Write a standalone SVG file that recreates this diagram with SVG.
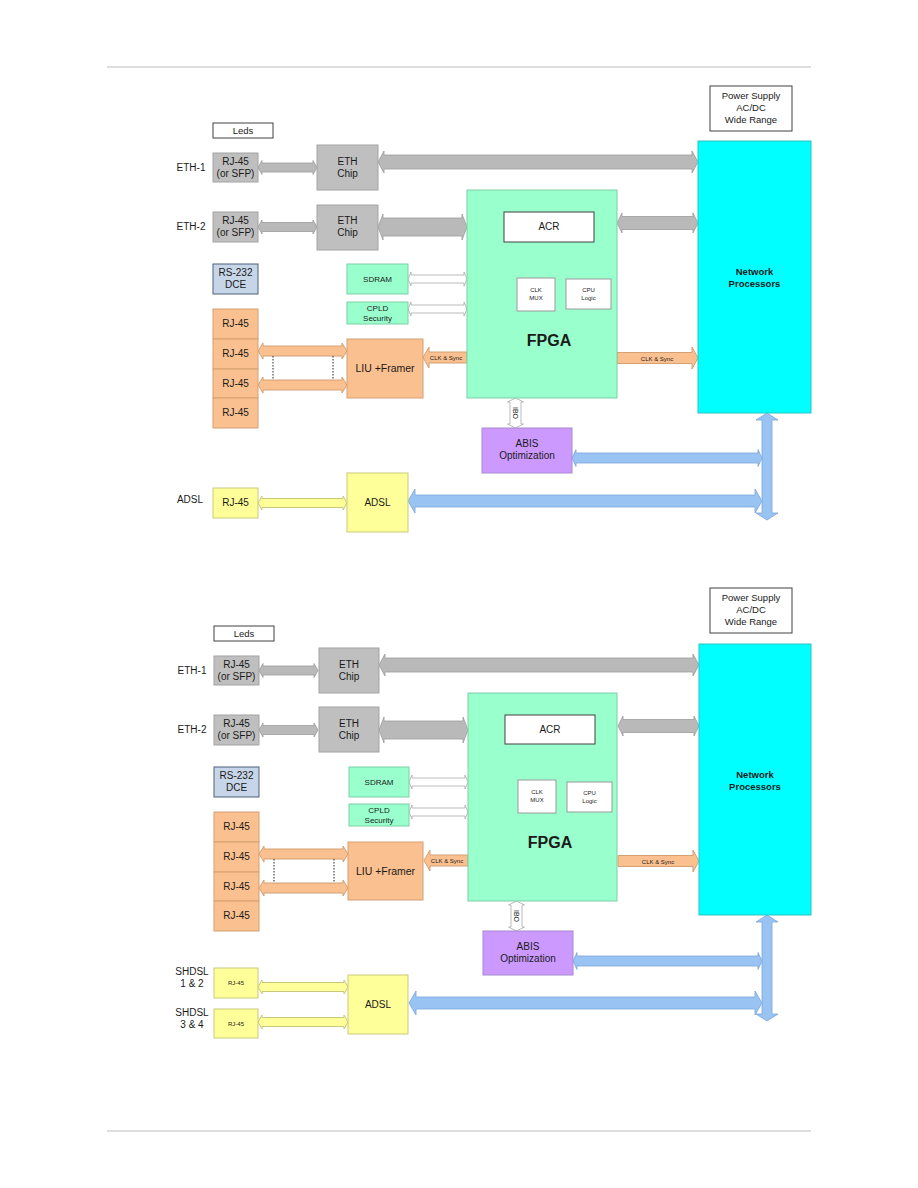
<svg xmlns="http://www.w3.org/2000/svg" width="918" height="1188" viewBox="0 0 918 1188">
<style>
.t{font-family:"Liberation Sans",Arial,sans-serif;fill:#1a1a1a;text-anchor:middle}
.s10{font-size:10px}.s9{font-size:9.5px}.s8{font-size:8px}.s7{font-size:7px}.s6{font-size:6px}
.npt{font-size:9.5px;font-weight:bold}
.gb{fill:#BFBFBF;stroke:#A3A3A3;stroke-width:1}
.ga{fill:#B9B9B9;stroke:#9C9C9C;stroke-width:0.8}
.mint{fill:#99FFCC;stroke:#7CCFA6;stroke-width:1}
.peach{fill:#FAC08F;stroke:#D5A073;stroke-width:1}
.yel{fill:#FFFF99;stroke:#C9C97C;stroke-width:1}
.blue{fill:#99C3F3;stroke:#7BA6DA;stroke-width:0.8}
.hol{fill:#FFFFFF;stroke:#A9A9A9;stroke-width:0.8}
.wb{fill:#FFFFFF;stroke:#404040;stroke-width:1}
.wl{fill:#FFFFFF;stroke:#9A9A9A;stroke-width:1}
.np{fill:#00FFFF;stroke:#2DC2C2;stroke-width:1}
.pur{fill:#CC99FF;stroke:#A88AD0;stroke-width:1}
.rs{fill:#C6D5E8;stroke:#4F617A;stroke-width:1}
.dot{stroke:#222;stroke-width:1;stroke-dasharray:1.5,1.5;fill:none}
.b{font-weight:bold}
</style>
<rect width="918" height="1188" fill="#FFFFFF"/>
<line x1="107" y1="67" x2="811" y2="67" stroke="#BDBDBD" stroke-width="1"/>
<line x1="107" y1="1131" x2="811" y2="1131" stroke="#BDBDBD" stroke-width="1"/>

<!-- ===== TOP DIAGRAM ===== -->
<g id="diagram-top">
  <g id="connectors-top">
    <polygon class="ga" points="258,167.5 262,160.5 262,163 313,163 313,160.5 317,167.5 313,174.5 313,172 262,172 262,174.5"/>
    <polygon class="ga" points="378,162 384,151 384,155 692,155 692,151 698,162 692,173 692,169 384,169 384,173"/>
    <polygon class="ga" points="258,227 262,220 262,222.5 313,222.5 313,220 317,227 313,234 313,231.5 262,231.5 262,234"/>
    <polygon class="ga" points="378,227 383,214 383,218 462,218 462,214 467,227 462,240 462,236 383,236 383,240"/>
    <polygon class="hol" points="408,279 411,272 411,275 464,275 464,272 467,279 464,286 464,283 411,283 411,286"/>
    <polygon class="hol" points="408,309 411,302 411,305 464,305 464,302 467,309 464,316 464,313 411,313 411,316"/>
    <polygon class="peach" points="258,351 263,343 263,346 342,346 342,343 347,351 342,359 342,356 263,356 263,359"/>
    <polygon class="peach" points="258,385 263,377 263,380 342,380 342,377 347,385 342,393 342,390 263,390 263,393"/>
    <line class="dot" x1="273" y1="356" x2="273" y2="380"/>
    <line class="dot" x1="333" y1="356" x2="333" y2="380"/>
    <polygon class="peach" points="423,357.5 429,347 429,352 467,352 467,363 429,363 429,368"/>
    <text class="t s6" x="446" y="360">CLK &amp; Sync</text>
    <polygon class="ga" points="617,223 622,213 622,216.5 693,216.5 693,213 698,223 693,233 693,229.5 622,229.5 622,233"/>
    <polygon class="peach" points="617,352.5 692,352.5 692,347 698,358 692,369 692,363.5 617,363.5"/>
    <text class="t s6" x="657" y="360.5">CLK &amp; Sync</text>
    <polygon class="hol" points="515.5,398 523.5,402 521,402 521,424 523.5,424 515.5,428 507.5,424 510,424 510,402 507.5,402"/>
    <text class="t s7" transform="translate(513,413) rotate(90)">IBO</text>
    <polygon class="blue" points="767,413 778,420 772,420 772,513 778,513 767,520 756,513 762,513 762,420 756,420"/>
    <polygon class="blue" points="572,458 576,449.5 576,453 758,453 758,449.5 762,458 758,466.5 758,463 576,463 576,466.5"/>
    <polygon class="blue" points="408,501 415,489 415,495 755,495 755,489 762,501 755,513 755,507 415,507 415,513"/>
    <polygon class="yel" points="258,503 262,496 262,498.5 343,498.5 343,496 347,503 343,510 343,507.5 262,507.5 262,510"/>
  </g>
  <g id="leds"><rect class="wb" x="213" y="123" width="60" height="15"/><text class="t s9" x="243" y="134">Leds</text></g>
  <g id="eth1-label"><text class="t s10" x="191" y="171">ETH-1</text></g>
  <g id="eth1-rj45"><rect class="gb" x="213" y="153" width="45" height="29"/><text class="t s10" x="235.5" y="165">RJ-45</text><text class="t s10" x="235.5" y="177">(or SFP)</text></g>
  <g id="eth1-chip"><rect class="gb" x="317" y="145" width="61" height="45"/><text class="t s10" x="347.5" y="165">ETH</text><text class="t s10" x="347.5" y="177">Chip</text></g>
  <g id="eth2-label"><text class="t s10" x="191" y="230">ETH-2</text></g>
  <g id="eth2-rj45"><rect class="gb" x="213" y="212" width="45" height="30"/><text class="t s10" x="235.5" y="224">RJ-45</text><text class="t s10" x="235.5" y="236">(or SFP)</text></g>
  <g id="eth2-chip"><rect class="gb" x="317" y="205" width="61" height="45"/><text class="t s10" x="347.5" y="224">ETH</text><text class="t s10" x="347.5" y="236">Chip</text></g>
  <g id="rs232"><rect class="rs" x="213" y="264" width="45" height="30"/><text class="t s10" x="235.5" y="276">RS-232</text><text class="t s10" x="235.5" y="288">DCE</text></g>
  <g id="sdram"><rect class="mint" x="347" y="264" width="61" height="30"/><text class="t s8" x="377.5" y="282">SDRAM</text></g>
  <g id="cpld"><rect class="mint" x="347" y="302" width="61" height="22"/><text class="t s8" x="377.5" y="311">CPLD</text><text class="t s8" x="377.5" y="321">Security</text></g>
  <g id="e1-rj45">
    <rect class="peach" x="213" y="309" width="45" height="30"/><text class="t s10" x="235.5" y="327">RJ-45</text>
    <rect class="peach" x="213" y="339" width="45" height="30"/><text class="t s10" x="235.5" y="357">RJ-45</text>
    <rect class="peach" x="213" y="369" width="45" height="29"/><text class="t s10" x="235.5" y="387">RJ-45</text>
    <rect class="peach" x="213" y="398" width="45" height="30"/><text class="t s10" x="235.5" y="416">RJ-45</text>
  </g>
  <g id="liu"><rect class="peach" x="347" y="339" width="76" height="59"/><text class="t" style="font-size:10.5px" x="385" y="372">LIU +Framer</text></g>
  <g id="fpga">
    <rect class="mint" x="467" y="190" width="150" height="208"/>
    <rect class="wb" x="504" y="212" width="90" height="30"/><text class="t s10" x="549" y="230">ACR</text>
    <rect class="wl" x="517" y="278" width="38" height="33"/><text class="t s6" x="536" y="292">CLK</text><text class="t s6" x="536" y="300">MUX</text>
    <rect class="wl" x="566" y="279" width="45" height="30"/><text class="t s6" x="588.5" y="292">CPU</text><text class="t s6" x="588.5" y="300">Logic</text>
    <text class="t b" style="font-size:16px" x="549" y="346">FPGA</text>
  </g>
  <g id="np"><rect class="np" x="698" y="141" width="113" height="272"/><text class="t npt" x="754.5" y="275">Network</text><text class="t npt" x="754.5" y="287">Processors</text></g>
  <g id="power"><rect class="wb" x="710" y="86" width="82" height="45"/><text class="t s9" x="751" y="99">Power Supply</text><text class="t s9" x="751" y="111">AC/DC</text><text class="t s9" x="751" y="123">Wide Range</text></g>
  <g id="abis"><rect class="pur" x="482" y="428" width="90" height="45"/><text class="t s10" x="527" y="447">ABIS</text><text class="t s10" x="527" y="459">Optimization</text></g>
  <g id="adsl-label"><text class="t s10" x="190" y="503">ADSL</text></g>
  <g id="adsl-rj45"><rect class="yel" x="213" y="488" width="45" height="30"/><text class="t s10" x="235.5" y="506">RJ-45</text></g>
  <g id="adsl"><rect class="yel" x="347" y="473" width="61" height="59"/><text class="t s10" x="377.5" y="506">ADSL</text></g>
</g>

<!-- ===== BOTTOM DIAGRAM ===== -->
<g id="diagram-bottom" transform="translate(1,503)">
  <g id="connectors-bottom">
    <polygon class="ga" points="258,167.5 262,160.5 262,163 313,163 313,160.5 317,167.5 313,174.5 313,172 262,172 262,174.5"/>
    <polygon class="ga" points="378,162 384,151 384,155 692,155 692,151 698,162 692,173 692,169 384,169 384,173"/>
    <polygon class="ga" points="258,227 262,220 262,222.5 313,222.5 313,220 317,227 313,234 313,231.5 262,231.5 262,234"/>
    <polygon class="ga" points="378,227 383,214 383,218 462,218 462,214 467,227 462,240 462,236 383,236 383,240"/>
    <polygon class="hol" points="408,279 411,272 411,275 464,275 464,272 467,279 464,286 464,283 411,283 411,286"/>
    <polygon class="hol" points="408,309 411,302 411,305 464,305 464,302 467,309 464,316 464,313 411,313 411,316"/>
    <polygon class="peach" points="258,351 263,343 263,346 342,346 342,343 347,351 342,359 342,356 263,356 263,359"/>
    <polygon class="peach" points="258,385 263,377 263,380 342,380 342,377 347,385 342,393 342,390 263,390 263,393"/>
    <line class="dot" x1="273" y1="356" x2="273" y2="380"/>
    <line class="dot" x1="333" y1="356" x2="333" y2="380"/>
    <polygon class="peach" points="423,357.5 429,347 429,352 467,352 467,363 429,363 429,368"/>
    <text class="t s6" x="446" y="360">CLK &amp; Sync</text>
    <polygon class="ga" points="617,223 622,213 622,216.5 693,216.5 693,213 698,223 693,233 693,229.5 622,229.5 622,233"/>
    <polygon class="peach" points="617,352.5 692,352.5 692,347 698,358 692,369 692,363.5 617,363.5"/>
    <text class="t s6" x="657" y="360.5">CLK &amp; Sync</text>
    <polygon class="hol" points="515.5,398 523.5,402 521,402 521,424 523.5,424 515.5,428 507.5,424 510,424 510,402 507.5,402"/>
    <text class="t s7" transform="translate(513,413) rotate(90)">IBO</text>
    <polygon class="blue" points="766,412 777,419 771,419 771,511 777,511 766,518 755,511 761,511 761,419 755,419"/>
    <polygon class="blue" points="572,458 576,449.5 576,453 757,453 757,449.5 761,458 757,466.5 757,463 576,463 576,466.5"/>
    <polygon class="blue" points="408,500 415,488 415,494 754,494 754,488 761,500 754,512 754,506 415,506 415,512"/>
    <polygon class="yel" points="257,484 261,477 261,479.5 343,479.5 343,477 347,484 343,491 343,488.5 261,488.5 261,491"/>
    <polygon class="yel" points="257,519 261,512 261,514.5 343,514.5 343,512 347,519 343,526 343,523.5 261,523.5 261,526"/>
  </g>
  <g id="leds-b"><rect class="wb" x="213" y="123" width="60" height="15"/><text class="t s9" x="243" y="134">Leds</text></g>
  <g id="eth1-label-b"><text class="t s10" x="191" y="171">ETH-1</text></g>
  <g id="eth1-rj45-b"><rect class="gb" x="213" y="153" width="45" height="29"/><text class="t s10" x="235.5" y="165">RJ-45</text><text class="t s10" x="235.5" y="177">(or SFP)</text></g>
  <g id="eth1-chip-b"><rect class="gb" x="318" y="145" width="60" height="45"/><text class="t s10" x="348" y="165">ETH</text><text class="t s10" x="348" y="177">Chip</text></g>
  <g id="eth2-label-b"><text class="t s10" x="191" y="230">ETH-2</text></g>
  <g id="eth2-rj45-b"><rect class="gb" x="213" y="212" width="45" height="30"/><text class="t s10" x="235.5" y="224">RJ-45</text><text class="t s10" x="235.5" y="236">(or SFP)</text></g>
  <g id="eth2-chip-b"><rect class="gb" x="318" y="204" width="60" height="45"/><text class="t s10" x="348" y="224">ETH</text><text class="t s10" x="348" y="236">Chip</text></g>
  <g id="rs232-b"><rect class="rs" x="213" y="264" width="45" height="30"/><text class="t s10" x="235.5" y="276">RS-232</text><text class="t s10" x="235.5" y="288">DCE</text></g>
  <g id="sdram-b"><rect class="mint" x="348" y="264" width="60" height="30"/><text class="t s8" x="378" y="282">SDRAM</text></g>
  <g id="cpld-b"><rect class="mint" x="348" y="301" width="60" height="22"/><text class="t s8" x="378" y="310">CPLD</text><text class="t s8" x="378" y="320">Security</text></g>
  <g id="e1-rj45-b">
    <rect class="peach" x="213" y="309" width="45" height="30"/><text class="t s10" x="235.5" y="327">RJ-45</text>
    <rect class="peach" x="213" y="339" width="45" height="30"/><text class="t s10" x="235.5" y="357">RJ-45</text>
    <rect class="peach" x="213" y="369" width="45" height="29"/><text class="t s10" x="235.5" y="387">RJ-45</text>
    <rect class="peach" x="213" y="398" width="45" height="30"/><text class="t s10" x="235.5" y="416">RJ-45</text>
  </g>
  <g id="liu-b"><rect class="peach" x="347" y="339" width="75" height="58"/><text class="t" style="font-size:10.5px" x="384.5" y="372">LIU +Framer</text></g>
  <g id="fpga-b">
    <rect class="mint" x="467" y="190" width="149" height="208"/>
    <rect class="wb" x="504" y="212" width="90" height="29"/><text class="t s10" x="549" y="230">ACR</text>
    <rect class="wl" x="517" y="277" width="38" height="33"/><text class="t s6" x="536" y="291">CLK</text><text class="t s6" x="536" y="299">MUX</text>
    <rect class="wl" x="566" y="279" width="45" height="30"/><text class="t s6" x="588.5" y="292">CPU</text><text class="t s6" x="588.5" y="300">Logic</text>
    <text class="t b" style="font-size:16px" x="549" y="345">FPGA</text>
  </g>
  <g id="np-b"><rect class="np" x="698" y="141" width="112" height="271"/><text class="t npt" x="754" y="275">Network</text><text class="t npt" x="754" y="287">Processors</text></g>
  <g id="power-b"><rect class="wb" x="709" y="85" width="82" height="45"/><text class="t s9" x="750" y="98">Power Supply</text><text class="t s9" x="750" y="110">AC/DC</text><text class="t s9" x="750" y="122">Wide Range</text></g>
  <g id="abis-b"><rect class="pur" x="482" y="428" width="90" height="44"/><text class="t s10" x="527" y="447">ABIS</text><text class="t s10" x="527" y="459">Optimization</text></g>
  <g id="shdsl12-label"><text class="t s10" x="191" y="472">SHDSL</text><text class="t s10" x="191" y="484">1 &amp; 2</text></g>
  <g id="shdsl12-rj45"><rect class="yel" x="213" y="465" width="44" height="30"/><text class="t s6" x="235" y="482">RJ-45</text></g>
  <g id="shdsl34-label"><text class="t s10" x="191" y="513">SHDSL</text><text class="t s10" x="191" y="525">3 &amp; 4</text></g>
  <g id="shdsl34-rj45"><rect class="yel" x="213" y="506" width="44" height="29"/><text class="t s6" x="235" y="523">RJ-45</text></g>
  <g id="adsl-b"><rect class="yel" x="347" y="472" width="60" height="59"/><text class="t s10" x="377" y="505">ADSL</text></g>
</g>
</svg>
